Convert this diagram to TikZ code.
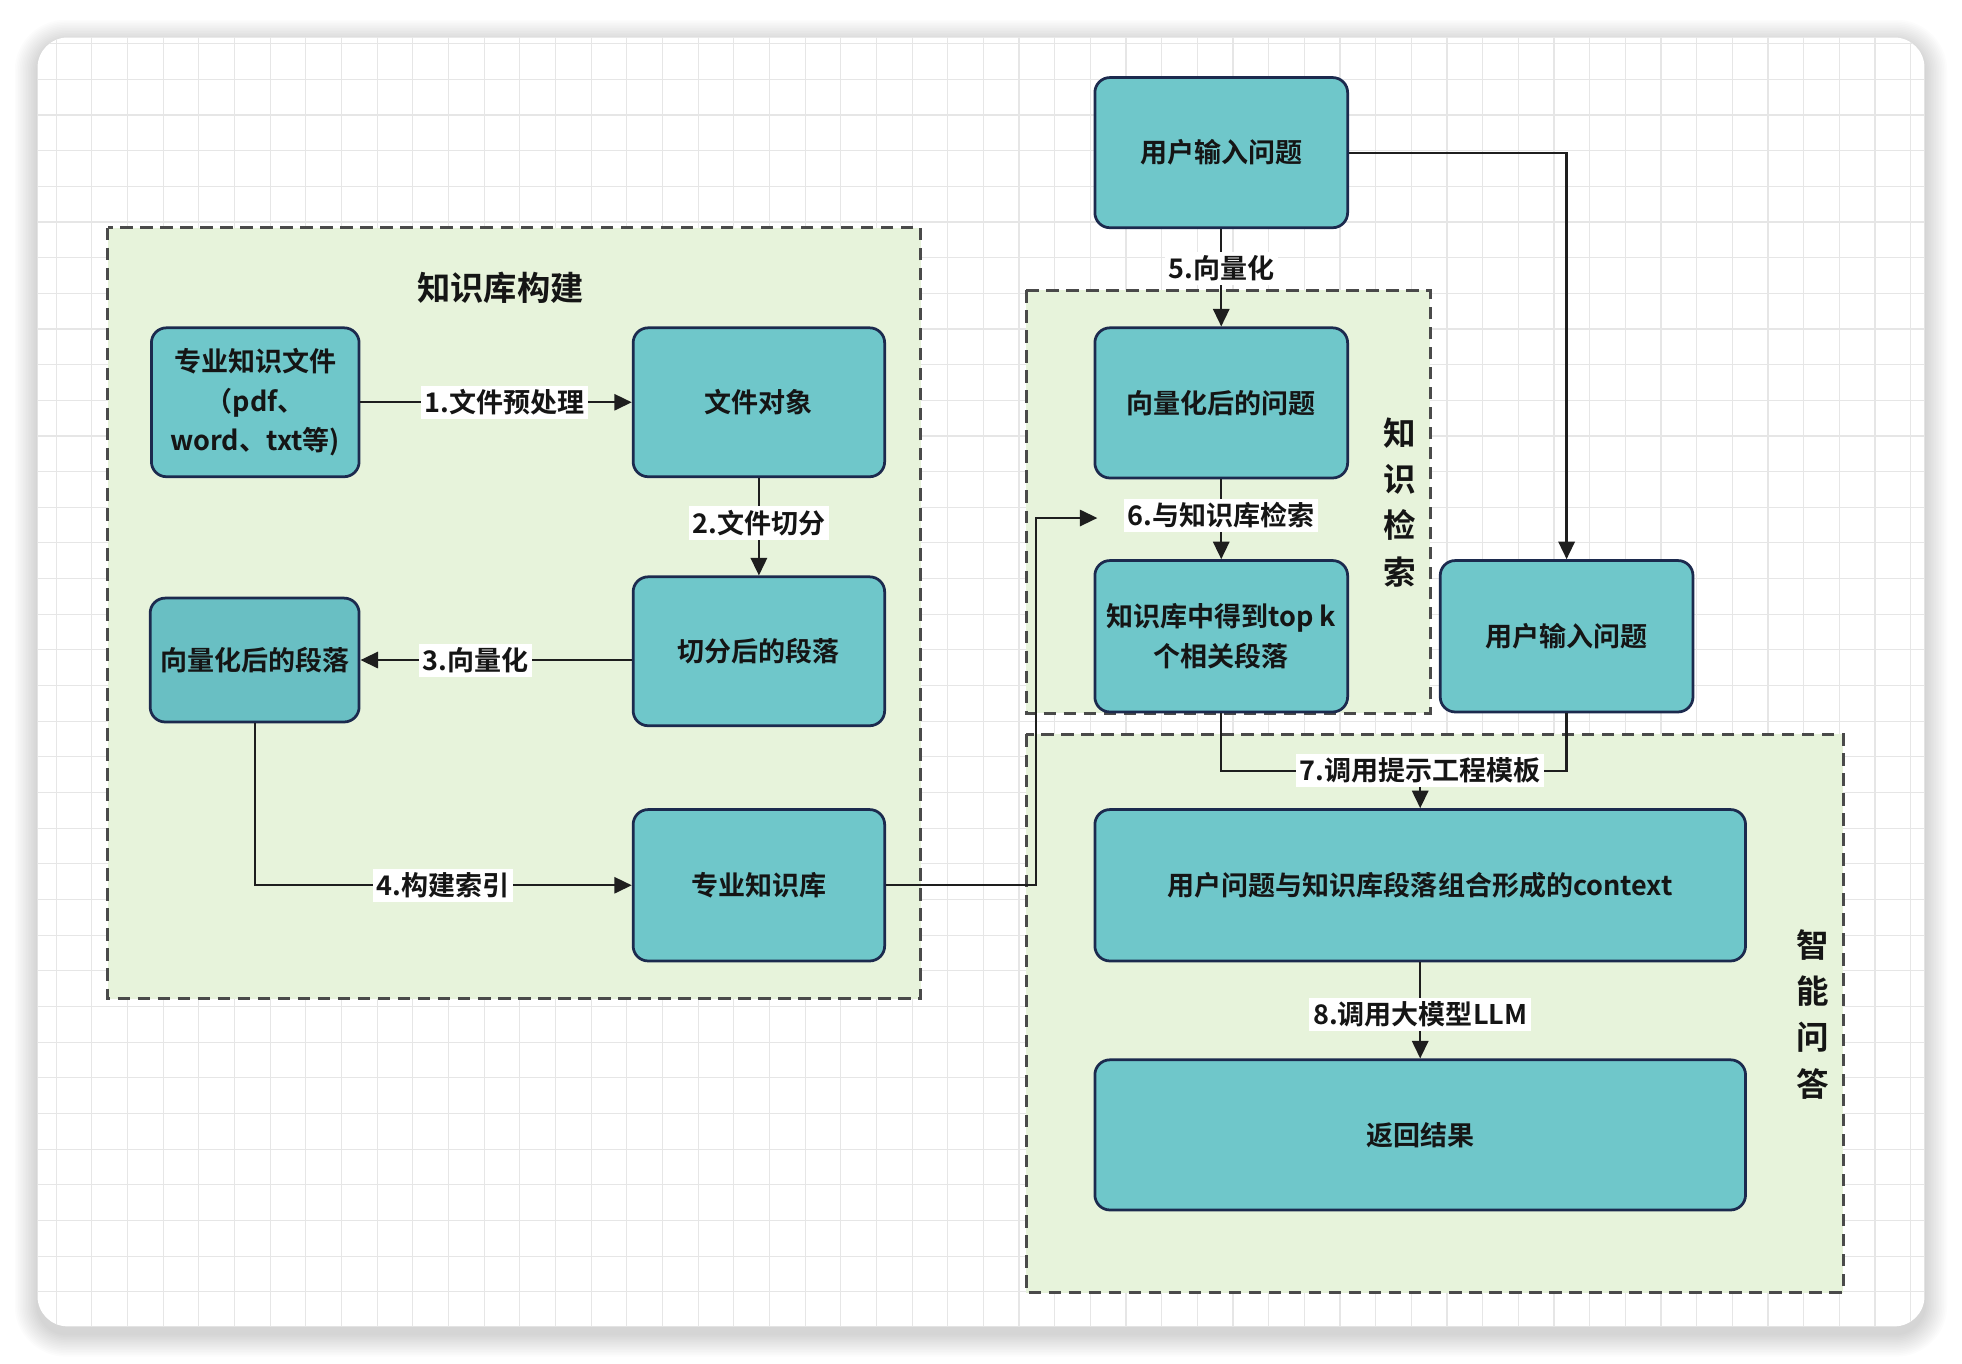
\documentclass[tikz,border=0pt]{standalone}
\usepackage{fontspec}
\setmainfont{Noto Sans CJK SC}[BoldFont={Noto Sans CJK SC Bold}]
\usetikzlibrary{arrows.meta}
\definecolor{teala}{HTML}{6FC7CA}
\definecolor{tealb}{HTML}{69BFC3}
\definecolor{navy}{HTML}{1C2A4E}
\definecolor{grp}{HTML}{E7F3DB}
\definecolor{dashc}{HTML}{4A4A4A}
\definecolor{gridc}{HTML}{E6E6E6}
\definecolor{txt}{HTML}{151515}
\definecolor{edgec}{HTML}{1E1E1E}
\tikzset{
  box/.style={draw=navy, line width=1.1pt, fill=teala, rounded corners=6pt, align=center,
    font=\bfseries\fontsize{10.8}{15.8}\selectfont, text=txt, inner sep=2pt},
  edge/.style={draw=edgec, line width=0.9pt},
  arr/.style={edge, -{Triangle[length=7pt,width=6.5pt]}},
  lbl/.style={fill=white, inner sep=1.5pt, font=\bfseries\fontsize{10.8}{13}\selectfont, text=txt},
  grpbox/.style={draw=dashc, fill=grp, line width=1.2pt, dash pattern=on 5pt off 3pt},
  ttl/.style={font=\bfseries\fontsize{13.3}{16}\selectfont, text=txt},
  vtext/.style={font=\bfseries\fontsize{13}{18.5}\selectfont, text=txt, align=center}
}
\begin{document}
\begin{tikzpicture}[x=0.5pt,y=-0.5pt]
\useasboundingbox (0,0) rectangle (1568,1090);
\fill[white] (0,0) rectangle (1568,1090);
% soft shadow of the card
\foreach \k in {1,...,14} {
  \fill[black, opacity=0.012, rounded corners={12pt+\k*0.6pt}]
    ({30-\k*1.3},{34-\k*1.3}) rectangle ({1538+\k*1.3},{1066+\k*1.3});
}
% card
\fill[white, rounded corners=12pt] (30,30) rectangle (1538,1060);
\begin{scope}
\clip[rounded corners=12pt] (30,30) rectangle (1538,1060);
\foreach \i in {0,...,54} \draw[gridc, line width=0.45pt] ({16.4+\i*28.5},0) -- ++(0,1090);
\foreach \j in {0,...,38} \draw[gridc, line width=0.45pt] (0,{6.4+\j*28.5}) -- ++(1568,0);
\end{scope}
% groups
\path[grpbox] (86,182) rectangle (736,798);
\path[grpbox] (820,232) rectangle (1143,570);
\path[grpbox] (820,587) rectangle (1473,1033);
\node[ttl] (t1) at (400,230) {知识库构建};
\node[vtext] (t2) at (1119,401.5) {知\\识\\检\\索};
\node[vtext] (t3) at (1449,810.5) {智\\能\\问\\答};
% nodes
\node[box, minimum width=83pt, minimum height=59.5pt] (A) at (204,321.5) {专业知识文件\\（pdf、\\word、txt等)};
\node[box, minimum width=100.5pt, minimum height=59.5pt] (B) at (606.5,321.5) {文件对象};
\node[box, minimum width=100.5pt, minimum height=59.5pt] (C) at (606.5,520.5) {切分后的段落};
\node[box, fill=tealb, minimum width=83.5pt, minimum height=49.5pt] (D) at (203.5,527.5) {向量化后的段落};
\node[box, minimum width=100.5pt, minimum height=60.5pt] (E) at (606.5,707.5) {专业知识库};
\node[box, minimum width=101pt, minimum height=60pt] (F) at (976,122) {用户输入问题};
\node[box, minimum width=101pt, minimum height=60pt] (G) at (976,322) {向量化后的问题};
\node[box, minimum width=101pt, minimum height=60.5pt] (I) at (976,508.5) {知识库中得到top k\\个相关段落};
\node[box, minimum width=101pt, minimum height=60.5pt] (H) at (1252,508.5) {用户输入问题};
\node[box, minimum width=260pt, minimum height=60.5pt] (J) at (1135,707.5) {用户问题与知识库段落组合形成的context};
\node[box, minimum width=260pt, minimum height=60pt] (K) at (1135,907) {返回结果};
% connectors
\draw[arr] (A.east) -- node[lbl, pos=0.53] (l1) {1.文件预处理} (B.west);
\draw[arr] (B.south) -- node[lbl, pos=0.46] (l2) {2.文件切分} (C.north);
\draw[arr] (D.east -| C.west) -- node[lbl, pos=0.575] (l3) {3.向量化} (D.east);
\draw[arr] (D.south) |- node[lbl, pos=0.75] (l4) {4.构建索引} (E.west);
\coordinate (k5) at (828,414);
\coordinate (q6) at (877,414);
\draw[arr] (E.east) -| (k5) -- (q6);
\draw[arr] (F.south) -- node[lbl, pos=0.4] (l5) {5.向量化} (G.north);
\draw[arr] (F.east) -| (H.north);
\draw[arr] (G.south) -- node[lbl, pos=0.45] (l6) {6.与知识库检索} (I.north);
\coordinate (m7) at (1135,616);
\draw[edge] (I.south) |- (m7);
\draw[edge] (H.south) |- (m7);
\draw[arr] (m7) -- (J.north);
\node[lbl] (l7) at (m7) {7.调用提示工程模板};
\draw[arr] (J.south) -- node[lbl, pos=0.54] (l8) {8.调用大模型LLM} (K.north);
\end{tikzpicture}
\end{document}
